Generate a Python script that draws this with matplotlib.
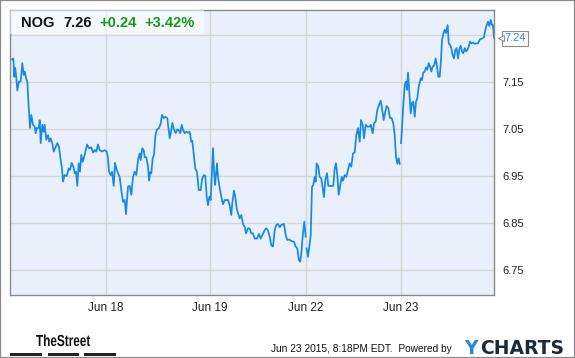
import matplotlib
matplotlib.use("Agg")
import matplotlib.pyplot as plt
from matplotlib.patches import Rectangle, PathPatch
from matplotlib.textpath import TextPath
from matplotlib.font_manager import FontProperties
from matplotlib.transforms import Affine2D
import numpy as np

# time axis: 4-minute bar index counted from the first bar of Jun 17
bar = [2, 3.3, 4.3, 5.3, 6.3, 7.3, 9, 10.7, 12.3, 13.7, 14.7, 16, 17.3, 18.7, 20, 21.3, 23,
       24.7, 25.7, 26.7, 28.7, 29.7, 30.7, 32.3, 33.7, 34.7, 36.3, 38, 39.3, 40.7, 42.3, 43.7,
       45.7, 47.3, 49, 50.7, 52, 53, 54.7, 56.7, 58.7, 60, 61.7, 63.3, 64.7, 66, 67.3, 68.7,
       70, 71.3, 72.7, 74.7, 77, 79, 81.3, 83, 84.7, 86.3, 88, 89.7, 92, 94.7, 96.7, 98, 99,
       100.7, 102, 103.7, 105, 106.3, 108, 109.7, 111.3, 113, 114.7, 116, 117.3,
       118, 119.7, 121.3, 123, 124.7, 126.3, 128, 129.7, 130.7, 132.3, 133.7, 134.7, 136.3,
       138, 139, 140.3, 141.3, 142.7, 144, 145.3, 146.7, 149, 150.7, 152, 153.7, 155.3, 157.3,
       158.7, 159.7, 161, 162.3, 164, 165.7, 167.3, 168.7, 170.3, 171.7, 173, 174.7, 176.3,
       178, 179.7, 181.3, 182.3, 183.7, 185.3, 187, 188.7, 190.7, 192, 193.7, 195.3, 196.7,
       198, 199.3, 200.7, 202, 203, 204, 205, 206, 207, 208, 209.7, 211.3, 213, 214.7, 216.3,
       218, 219.7, 221.3, 222.3, 224, 225.3, 226.7, 228, 229.7, 231.3, 233, 234.7, 236, 238,
       239.7, 241.3, 243, 244.7, 247, 249, 250.7, 252.3, 254.7, 256.3, 258, 259.7, 261.3, 263,
       264.7, 266.3, 268, 269.7, 271.3, 274, 275.7, 277.3, 279, 281.3, 284, 285.7, 287.3, 289,
       290.3, 291.3, 292.7, 294.3, 295.7,
       296.7, 298, 299.3, 300.7, 302, 303.3, 304.7, 305.7, 306.7, 308.3, 309.7, 311.3, 312.7,
       314, 315.3, 317, 318.3, 320, 323.3, 324.7, 326, 327.3, 328.7, 330, 331.7, 333, 334.7,
       336.3, 338, 339.7, 341.3, 343, 344.7, 346.3, 348, 349.7, 351, 352.7, 354, 355.7, 357.3,
       359.7, 360.7, 362.7, 364, 365.7, 367.3, 369, 370.7, 372, 373.7, 375.3, 376.7, 378.3,
       380, 381.7, 383.3, 384.7, 386, 387.3, 388.7, 389.7,
       391, 391.7, 393, 394.7, 396, 397, 398, 399.3, 400.7, 402, 403.3, 404.7, 406, 407.3,
       408.7, 410, 410.7, 412, 413.3, 414.7, 416, 417.3, 418.7, 420, 421.3, 422.7, 424, 425.7,
       427, 428.3, 429.7, 431, 432, 433.3, 434.7, 436, 437.7, 438.7, 440, 441.3, 442.7, 444,
       445.3, 446.7, 448, 449.3, 450.7, 452, 453.3, 454.7, 456, 457.3, 458.7, 460, 461.3, 463,
       464.7, 466.3, 468, 470, 472, 474, 475.3, 476.7, 478, 479.3, 480.7, 482, 483, 484]

price = [7.198, 7.200, 7.161, 7.180, 7.159, 7.132, 7.151, 7.151, 7.190, 7.165, 7.172, 7.158,
         7.151, 7.097, 7.052, 7.080, 7.059, 7.055, 7.041, 7.052, 7.052, 7.069, 7.020, 7.059,
         7.044, 7.059, 7.027, 7.037, 7.023, 7.030, 7.020, 7.002, 7.012, 7.020, 7.011, 6.984,
         6.966, 6.938, 6.952, 6.950, 6.966, 6.963, 6.978, 6.970, 6.956, 6.959, 6.929, 6.977,
         6.959, 6.995, 6.980, 6.995, 7.017, 7.009, 7.011, 7.000, 7.005, 7.002, 7.017, 7.005,
         7.002, 7.005, 7.002, 6.988, 6.959, 6.952, 6.959, 6.929, 6.978, 6.966, 6.956, 6.948,
         6.920, 6.895, 6.899, 6.869, 6.906,
         6.927, 6.929, 6.910, 6.948, 6.959, 6.952, 6.984, 6.998, 6.984, 7.009, 7.005, 6.990,
         6.990, 6.970, 6.940, 6.959, 6.956, 6.988, 6.995, 7.034, 7.048, 7.052, 7.061, 7.080,
         7.073, 7.076, 7.073, 7.048, 7.030, 7.044, 7.063, 7.049, 7.041, 7.049, 7.048, 7.041,
         7.059, 7.048, 7.041, 7.044, 7.042, 7.044, 7.023, 7.025, 6.998, 6.966, 6.959, 6.920,
         6.920, 6.942, 6.952, 6.950, 6.906, 6.888, 6.906, 6.899, 6.963, 7.009, 6.963, 6.931,
         6.952, 6.977, 6.948, 6.924, 6.906, 6.890, 6.899, 6.899, 6.899, 6.888, 6.867, 6.892,
         6.919, 6.906, 6.881, 6.871, 6.860, 6.867, 6.848, 6.842, 6.828, 6.839, 6.838, 6.828,
         6.828, 6.817, 6.817, 6.827, 6.817, 6.824, 6.835, 6.839, 6.834, 6.821, 6.803, 6.800,
         6.835, 6.846, 6.848, 6.841, 6.846, 6.848, 6.824, 6.814, 6.815, 6.812, 6.810, 6.800,
         6.796, 6.771, 6.768, 6.786, 6.821, 6.853, 6.821,
         6.796, 6.778, 6.800, 6.824, 6.927, 6.931, 6.948, 6.938, 6.977, 6.970, 6.948, 6.945,
         6.924, 6.905, 6.942, 6.956, 6.929, 6.929, 6.929, 6.966, 6.977, 6.952, 6.910, 6.927,
         6.948, 6.940, 6.952, 6.948, 6.963, 6.977, 6.970, 6.998, 7.000, 7.037, 7.052, 7.023,
         7.069, 7.059, 7.030, 7.059, 7.055, 7.055, 7.059, 7.041, 7.062, 7.066, 7.090, 7.101,
         7.110, 7.094, 7.069, 7.087, 7.099, 7.094, 7.073, 7.073, 7.062, 7.037, 6.991, 6.976,
         6.988, 6.976,
         7.020, 7.041, 7.090, 7.144, 7.151, 7.133, 7.170, 7.129, 7.083, 7.105, 7.108, 7.076,
         7.108, 7.115, 7.140, 7.151, 7.158, 7.154, 7.170, 7.172, 7.181, 7.176, 7.190, 7.183,
         7.172, 7.183, 7.184, 7.200, 7.183, 7.161, 7.161, 7.197, 7.239, 7.252, 7.261, 7.254,
         7.271, 7.232, 7.229, 7.222, 7.207, 7.200, 7.218, 7.222, 7.200, 7.218, 7.227, 7.215,
         7.211, 7.222, 7.215, 7.218, 7.225, 7.236, 7.232, 7.234, 7.231, 7.232, 7.232, 7.241,
         7.242, 7.245, 7.261, 7.271, 7.278, 7.269, 7.282, 7.271, 7.271, 7.243]

day_open = [96, 200, 296, 391]
day_labels = ["Jun 18", "Jun 19", "Jun 22", "Jun 23"]
price_ticks = [6.75, 6.85, 6.95, 7.05, 7.15, 7.25]

ticker = "NOG"
last_close = "7.26"
change = "+0.24"
change_pct = "+3.42%"
last_label = "7.24"

plt.rcParams['font.family'] = ['Liberation Sans', 'DejaVu Sans']

W, H = 575, 358
fig = plt.figure(figsize=(W / 100, H / 100), dpi=100)
fig.patch.set_facecolor('white')
fig.patches.append(Rectangle((0, 0), 1, 1, transform=fig.transFigure, fill=False,
                             edgecolor='#8a8a8a', linewidth=1.6))

ax = fig.add_axes([10 / W, 1 - 295 / H, 484 / W, 285 / H])
ax.set_facecolor('#eaf0fb')
ax.set_xlim(0, 484)
ax.set_ylim(6.697, 7.303)

bar = np.array(bar)
price = np.array(price)
# each session drawn on its own, so the overnight gaps show
edges = [0] + day_open[2:] + [1e9]
for lo, hi in zip(edges[:-1], edges[1:]):
    m = (bar >= lo) & (bar < hi)
    ax.plot(bar[m], price[m], color='#1589e6', linewidth=1.25, solid_joinstyle='round')

ax.set_xticks(day_open)
ax.set_xticklabels(day_labels, fontsize=8.5, color='#222222')
ax.set_yticks(price_ticks)
ax.set_yticklabels([f"{v:.2f}" if v < 7.2 else "" for v in price_ticks],
                   fontsize=8, color='#222222')
ax.yaxis.tick_right()
ax.tick_params(axis='both', length=0)
ax.tick_params(axis='y', pad=6)
ax.tick_params(axis='x', pad=5)
ax.grid(True, color='#d6d6d6', linewidth=1)
ax.set_axisbelow(True)
for s in ax.spines.values():
    s.set_color('#8a8a8a')
    s.set_linewidth(1)

# header box
ax.add_patch(Rectangle((0, 1 - 24 / 285), 194 / 484, 24 / 285, transform=ax.transAxes,
                       facecolor='white', alpha=0.55, edgecolor='none', zorder=3))
hy = 1 - 23 / H
fig.text(21.5 / W, hy, ticker, fontsize=10.5, fontweight='bold', va='center', color='#111111')
fig.text(63 / W, hy, last_close, fontsize=10.5, fontweight='bold', va='center', color='#111111')
fig.text(99 / W, hy, change, fontsize=10.5, fontweight='bold', va='center', color='#169a16')
fig.text(144 / W, hy, change_pct, fontsize=10.5, fontweight='bold', va='center', color='#169a16')

# last price flag
ax.annotate(last_label, xy=(1, price[-1]), xycoords=('axes fraction', 'data'),
            xytext=(7.5, 0), textcoords='offset points', fontsize=8, color='#2a8fe2',
            va='center', ha='left', annotation_clip=False,
            bbox=dict(boxstyle='square,pad=0.22', facecolor='white', edgecolor='#8a8a8a',
                      linewidth=0.8))
ax.plot([1.0 + 7 / 484], [price[-1]], marker='<', markersize=4, color='white',
        markeredgecolor='#8a8a8a', markeredgewidth=0.7,
        transform=ax.get_yaxis_transform(), clip_on=False, zorder=6)

# footer: condensed "TheStreet" wordmark
tp = TextPath((0, 0), "TheStreet", size=16,
              prop=FontProperties(family='Liberation Sans', weight='bold'))
tw = tp.get_extents().width
fig.patches.append(PathPatch(tp, transform=Affine2D().scale(54 / tw, 1.0).translate(36, H - 346),
                             facecolor='#111111', edgecolor='none'))
for x0, x1 in [(10, 42), (47.5, 79), (83.5, 116)]:
    fig.patches.append(Rectangle((x0 / W, 1 - 356 / H), (x1 - x0) / W, 3 / H,
                                 transform=fig.transFigure, facecolor='#222222',
                                 edgecolor='none'))
fig.text(271 / W, 1 - 349.5 / H, "Jun 23 2015, 8:18PM EDT.  Powered by", fontsize=7.3,
         va='center', color='#111111')
fig.text(464 / W, 1 - 349 / H, "Y", fontsize=13.5, fontweight='bold', va='center',
         color='#1e8ad8', family=['DejaVu Sans'])
fig.text(480 / W, 1 - 349 / H, "CHARTS", fontsize=13.5, fontweight='bold', va='center',
         color='#1d2a38', family=['DejaVu Sans'])

fig.savefig("out.png", dpi=100)
